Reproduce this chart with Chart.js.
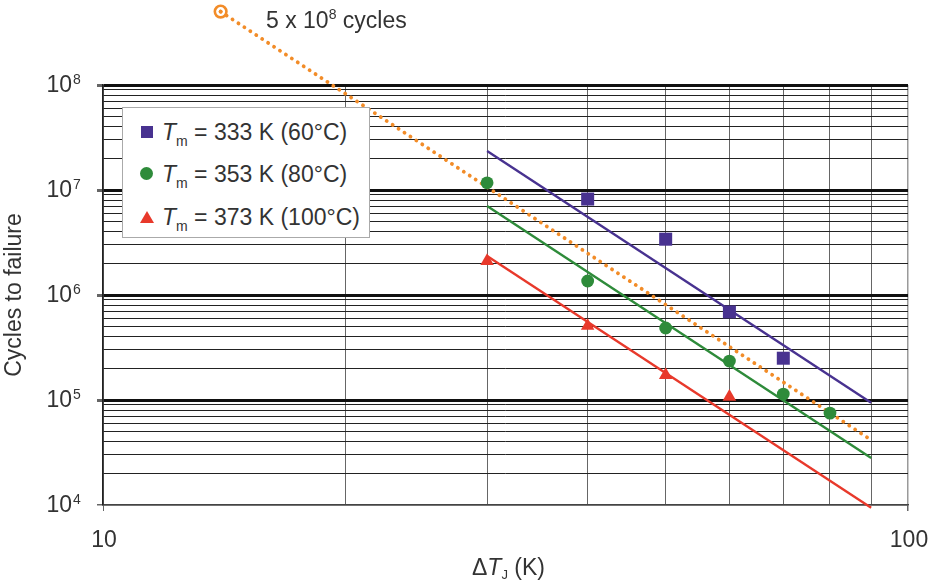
<!DOCTYPE html>
<html>
<head>
<meta charset="utf-8">
<script src="https://cdn.jsdelivr.net/npm/chart.js@4.4.0/dist/chart.umd.min.js"></script>
<style>
  body { margin: 0; background: #fff; }
  #wrap { position: relative; width: 929px; height: 580px; font-family: "Liberation Sans", Arial, sans-serif; color: #333; }
  #legend { position: absolute; left: 122px; top: 107px; width: 246px; height: 129px; background: #fff; border: 1px solid #aaa; }
  .row { position: absolute; left: 0; height: 30px; line-height: 30px; font-size: 23px; white-space: nowrap; }
  .mk { position: absolute; }
  .txt { position: absolute; left: 39px; top: 0; }
  .sub { position: relative; top: 6px; font-size: 14px; }
  #note { position: absolute; left: 266px; top: 7px; font-size: 23px; line-height: 26px; white-space: nowrap; }
  #note .sup { position: relative; top: -9px; font-size: 14px; }
</style>
</head>
<body>
<div id="wrap">
  <canvas id="fatigueChart" width="929" height="580"></canvas>
  <div id="note">5 x 10<span class="sup">8</span> cycles</div>
  <div id="legend">
    <div class="row" style="top:9px">
      <span class="mk" style="left:18px;top:9px;width:12px;height:12px;background:#483290"></span>
      <span class="txt"><i>T</i><span class="sub">m</span> = 333 K (60°C)</span>
    </div>
    <div class="row" style="top:51px">
      <span class="mk" style="left:17px;top:8px;width:13px;height:13px;border-radius:50%;background:#2e8b3a"></span>
      <span class="txt"><i>T</i><span class="sub">m</span> = 353 K (80°C)</span>
    </div>
    <div class="row" style="top:94px">
      <span class="mk" style="left:17px;top:9px;width:0;height:0;border-left:7px solid transparent;border-right:7px solid transparent;border-bottom:12px solid #e8392b"></span>
      <span class="txt"><i>T</i><span class="sub">m</span> = 373 K (100°C)</span>
    </div>
  </div>
</div>
<script>
// оси
const xTicks = [10, 20, 30, 40, 50, 60, 70, 80, 90, 100];
const xLabels = [10, 100];
const yDecades = [1e4, 1e5, 1e6, 1e7, 1e8];
const yExponents = [4, 5, 6, 7, 8];
const yMinorSteps = [2, 3, 4, 5, 6, 7, 8, 9];

// измерения (ΔTj, циклы)
const x333 = [40, 50, 60, 70];
const y333 = [8.2e6, 3.4e6, 6.9e5, 2.5e5];
const x353 = [30, 40, 50, 60, 70, 80];
const y353 = [1.17e7, 1.36e6, 4.85e5, 2.35e5, 1.14e5, 7.5e4];
const x373 = [30, 40, 50, 60];
const y373 = [2.1e6, 5.07e5, 1.73e5, 1.07e5];

// линии аппроксимации
const fitX = [30, 90];
const fit333 = [2.35e7, 9.4e4];
const fit353 = [7.05e6, 2.8e4];
const fit373 = [2.35e6, 9.4e3];

// предел 5e8 циклов
const limitX = [14, 89];
const limitY = [5e8, 4.4e4];

const PURPLE = '#483290';
const GREEN = '#2e8b3a';
const RED = '#e8392b';
const ORANGE = '#f28c28';
const FONT = '"Liberation Sans", Arial, sans-serif';

const yTicks = [];
yDecades.forEach((d, i) => {
    yTicks.push(d);
    if (i < yDecades.length - 1) yMinorSteps.forEach(k => yTicks.push(d * k));
});

const toPts = (xs, ys) => xs.map((x, i) => ({ x: x, y: ys[i] }));

// подписи осей и маркер начала пунктира
const textPlugin = {
    id: 'textPlugin',
    afterDatasetsDraw(chart) {
        const { ctx, scales: { x, y } } = chart;
        const px = x.getPixelForValue(limitX[0]);
        const py = y.getPixelForValue(limitY[0]);
        ctx.save();
        ctx.strokeStyle = ORANGE;
        ctx.fillStyle = ORANGE;
        ctx.lineWidth = 2.6;
        ctx.beginPath();
        ctx.arc(px, py, 5.8, 0, Math.PI * 2);
        ctx.stroke();
        ctx.beginPath();
        ctx.arc(px, py, 1.9, 0, Math.PI * 2);
        ctx.fill();
        ctx.restore();
    },
    afterDraw(chart) {
        const { ctx, chartArea, scales: { x, y } } = chart;
        ctx.save();
        ctx.fillStyle = '#333';

        yDecades.forEach((v, i) => {
            const py = y.getPixelForValue(v);
            ctx.font = '23px ' + FONT;
            ctx.textAlign = 'right';
            ctx.textBaseline = 'middle';
            ctx.fillText('10', chartArea.left - 31, py + 1);
            ctx.font = '14px ' + FONT;
            ctx.textAlign = 'left';
            ctx.textBaseline = 'top';
            ctx.fillText(String(yExponents[i]), chartArea.left - 30, py - 12);
        });

        ctx.font = '23px ' + FONT;
        ctx.textAlign = 'center';
        ctx.textBaseline = 'middle';
        xLabels.forEach(v => {
            ctx.fillText(String(v), x.getPixelForValue(v) + 1, chartArea.bottom + 36);
        });

        // ΔTJ (K)
        ctx.textAlign = 'left';
        ctx.textBaseline = 'alphabetic';
        let tx = 472;
        const base = chartArea.bottom + 70;
        ctx.font = '23px ' + FONT;
        ctx.fillText('Δ', tx, base);
        tx += ctx.measureText('Δ').width;
        ctx.font = 'italic 23px ' + FONT;
        ctx.fillText('T', tx, base);
        tx += ctx.measureText('T').width;
        ctx.font = '13px ' + FONT;
        ctx.fillText('J', tx, base + 4);
        tx += ctx.measureText('J').width;
        ctx.font = '23px ' + FONT;
        ctx.fillText(' (K)', tx, base);

        ctx.translate(15, (chartArea.top + chartArea.bottom) / 2);
        ctx.rotate(-Math.PI / 2);
        ctx.textAlign = 'center';
        ctx.textBaseline = 'middle';
        ctx.fillText('Cycles to failure', 0, 0);
        ctx.restore();
    }
};

new Chart(document.getElementById('fatigueChart').getContext('2d'), {
    type: 'scatter',
    data: {
        datasets: [
            {
                data: toPts(fitX, fit333), showLine: true, borderColor: PURPLE, borderWidth: 2.4, pointRadius: 0, clip: false
            },
            {
                data: toPts(fitX, fit353), showLine: true, borderColor: GREEN, borderWidth: 2.4, pointRadius: 0, clip: false
            },
            {
                data: toPts(fitX, fit373), showLine: true, borderColor: RED, borderWidth: 2.4, pointRadius: 0, clip: false
            },
            {
                data: toPts(x333, y333), pointStyle: 'rect', pointRadius: 9.2, backgroundColor: PURPLE, borderColor: PURPLE, borderWidth: 0
            },
            {
                data: toPts(x353, y353), pointStyle: 'circle', pointRadius: 6.4, backgroundColor: GREEN, borderColor: GREEN, borderWidth: 0
            },
            {
                data: toPts(x373, y373), pointStyle: 'triangle', pointRadius: 7.8, backgroundColor: RED, borderColor: RED, borderWidth: 0
            },
            {
                data: toPts(limitX, limitY), showLine: true, borderColor: ORANGE, borderWidth: 3.8,
                borderDash: [0.1, 7], borderCapStyle: 'round', pointRadius: 0, clip: false
            }
        ]
    },
    options: {
        responsive: false,
        animation: false,
        layout: { padding: { left: 97, right: 21, top: 85, bottom: 69 } },
        plugins: { legend: { display: false }, tooltip: { enabled: false } },
        scales: {
            x: {
                type: 'logarithmic',
                min: 10,
                max: 100,
                afterBuildTicks: scale => { scale.ticks = xTicks.map(v => ({ value: v })); },
                ticks: { display: false },
                grid: {
                    color: c => (c.tick && c.tick.value === 100 ? '#9a9a9a' : '#666'),
                    lineWidth: c => (c.tick && c.tick.value === 100 ? 1.5 : 1),
                    tickLength: 6,
                    tickColor: c => (c.tick && xLabels.includes(c.tick.value) ? '#666' : 'rgba(0,0,0,0)')
                },
                border: { color: '#444', width: 1.5 }
            },
            y: {
                type: 'logarithmic',
                min: 1e4,
                max: 1e8,
                afterBuildTicks: scale => { scale.ticks = yTicks.map(v => ({ value: v })); },
                ticks: { display: false },
                grid: {
                    color: c => {
                        const v = c.tick && c.tick.value;
                        if (v === 1e4) return '#444';
                        return yDecades.includes(v) ? '#111' : '#222';
                    },
                    lineWidth: c => {
                        const v = c.tick && c.tick.value;
                        if (v === 1e4) return 1.5;
                        return yDecades.includes(v) ? 3 : 1;
                    },
                    tickLength: 6,
                    tickColor: c => (c.tick && yDecades.includes(c.tick.value) ? '#666' : 'rgba(0,0,0,0)')
                },
                border: { color: '#222', width: 1.5 }
            }
        }
    },
    plugins: [textPlugin]
});
</script>
</body>
</html>
